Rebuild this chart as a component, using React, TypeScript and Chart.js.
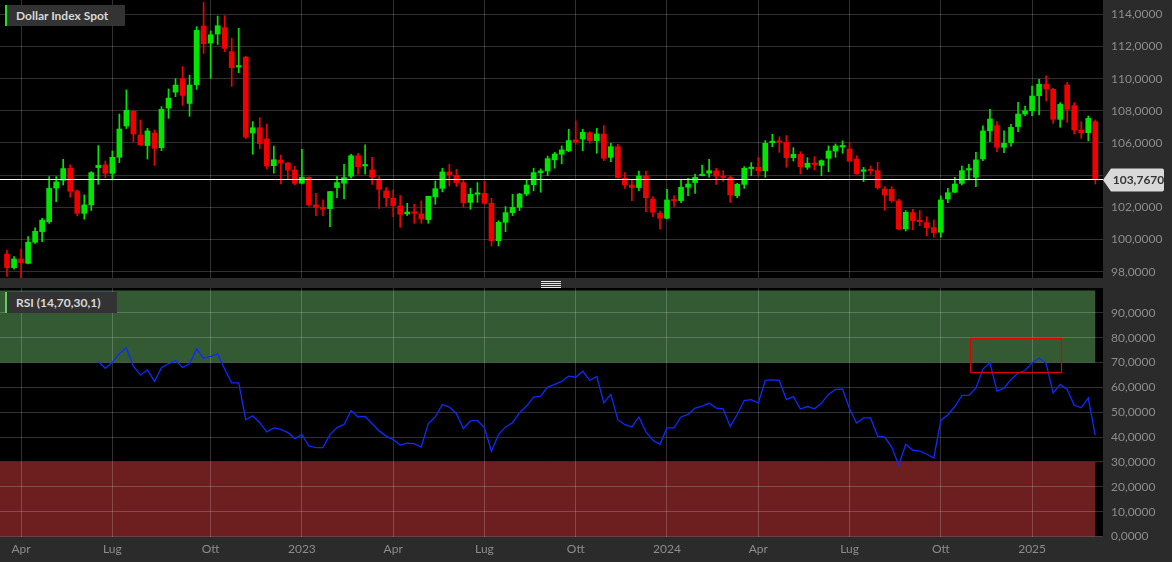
import React, { useEffect, useRef } from 'react';
import { Chart, registerables } from 'chart.js';

Chart.register(...registerables);

// Weekly OHLC, Dollar Index Spot (week ending 18 Mar 2022 .. 7 Mar 2025)
const opens = [
  99.10, 98.25, 98.79, 98.52, 99.83, 100.49, 101.11, 103.20, 103.68, 104.43,
  103.02, 101.63, 102.15, 104.47, 104.64, 104.11, 105.11, 107.06, 107.97, 106.50,
  105.84, 106.62, 105.71, 108.17, 109.16, 110.00, 108.46, 109.62, 113.27, 112.21,
  112.77, 113.17, 111.68, 110.72, 111.34, 106.62, 106.95, 106.25, 104.59, 104.94,
  104.75, 104.32, 103.50, 103.87, 102.15, 102.00, 101.92, 103.23, 103.50, 103.93,
  105.21, 104.57, 104.32, 103.74, 103.02, 102.56, 102.09, 101.59, 101.71, 101.59,
  101.24, 102.65, 103.18, 104.20, 103.99, 103.54, 102.31, 102.81, 102.87, 102.25,
  99.93, 101.07, 101.67, 102.00, 102.83, 103.41, 104.16, 104.26, 104.95, 105.30,
  105.52, 106.19, 106.25, 106.64, 106.15, 106.56, 105.11, 105.77, 103.81, 103.39,
  103.23, 103.95, 102.52, 101.63, 101.32, 102.46, 102.42, 103.25, 103.54, 103.97,
  104.12, 104.26, 103.91, 103.85, 102.73, 103.43, 104.41, 104.49, 104.28, 106.02,
  106.12, 106.04, 105.09, 105.30, 104.49, 104.74, 104.61, 105.05, 105.50, 105.75,
  105.63, 105.01, 104.24, 104.36, 104.28, 103.14, 103.12, 102.40, 100.66, 101.67,
  101.20, 101.05, 100.74, 100.45, 102.52, 102.94, 103.49, 104.32, 103.87, 105.01,
  106.75, 107.08, 105.73, 106.02, 107.02, 107.80, 108.01, 108.94, 109.65, 109.34,
  107.47, 109.61, 108.32, 106.81, 106.64, 107.33,
];
const highs = [
  99.35, 98.94, 99.40, 100.18, 100.72, 101.32, 103.91, 103.91, 104.99, 104.64,
  103.08, 102.77, 104.22, 105.84, 104.88, 105.50, 107.80, 109.30, 108.05, 107.43,
  106.91, 106.81, 108.26, 109.36, 110.00, 110.75, 110.22, 113.23, 114.74, 112.96,
  113.89, 113.91, 112.50, 113.13, 111.40, 107.33, 107.57, 107.18, 105.81, 105.25,
  104.80, 104.55, 105.61, 103.90, 102.87, 102.46, 103.00, 103.91, 104.68, 105.30,
  105.36, 105.88, 105.11, 103.91, 103.23, 103.08, 102.73, 102.25, 102.19, 102.40,
  102.69, 103.64, 104.43, 104.68, 104.36, 103.70, 103.18, 103.54, 103.60, 102.56,
  101.17, 102.05, 102.81, 102.87, 103.70, 104.43, 104.39, 105.19, 105.42, 105.82,
  106.85, 107.37, 106.85, 106.70, 106.91, 107.08, 105.98, 105.92, 104.16, 103.74,
  104.26, 104.26, 102.67, 101.77, 103.12, 102.73, 103.70, 103.81, 104.07, 104.63,
  104.99, 104.43, 104.28, 103.95, 103.50, 104.53, 104.78, 105.09, 106.15, 106.54,
  106.39, 106.46, 105.71, 105.46, 105.09, 105.15, 104.95, 105.82, 105.94, 106.13,
  106.04, 105.21, 104.49, 104.57, 104.80, 103.29, 103.29, 102.50, 101.80, 101.88,
  101.80, 101.42, 101.22, 102.71, 103.18, 103.87, 104.57, 104.68, 105.42, 107.06,
  108.09, 107.33, 106.75, 107.16, 108.53, 108.30, 109.54, 109.96, 110.17, 109.40,
  108.51, 109.77, 108.51, 107.33, 107.68, 107.43,
];
const lows = [
  97.70, 98.15, 97.63, 98.48, 99.76, 99.87, 101.00, 102.36, 103.39, 102.63,
  101.47, 101.26, 101.80, 103.43, 103.85, 103.70, 104.78, 106.90, 106.08, 105.84,
  105.00, 104.61, 105.52, 107.53, 108.88, 108.34, 107.66, 109.33, 111.57, 110.02,
  112.13, 111.68, 109.52, 110.37, 106.27, 105.30, 105.63, 104.38, 104.12, 103.45,
  103.76, 103.39, 103.45, 102.05, 101.49, 101.49, 100.80, 102.60, 102.52, 103.81,
  104.07, 104.07, 103.43, 101.94, 102.05, 101.42, 100.76, 101.49, 101.01, 101.01,
  101.01, 102.19, 102.96, 103.33, 103.29, 102.00, 101.88, 102.31, 102.19, 99.60,
  99.60, 100.49, 101.49, 101.80, 102.73, 103.02, 102.94, 103.97, 104.43, 104.70,
  105.46, 105.92, 105.52, 105.98, 105.36, 104.90, 104.84, 103.81, 103.18, 102.42,
  103.04, 101.73, 101.42, 100.64, 101.28, 102.05, 102.29, 102.73, 102.87, 103.95,
  103.87, 103.43, 103.60, 102.31, 102.60, 103.18, 103.97, 103.95, 103.87, 105.77,
  105.42, 104.49, 104.88, 104.07, 104.36, 104.32, 103.97, 104.22, 105.11, 105.36,
  104.80, 104.05, 103.60, 104.05, 103.12, 101.81, 102.31, 100.60, 100.53, 100.60,
  100.86, 100.24, 100.14, 100.14, 102.29, 102.91, 103.39, 103.70, 103.29, 104.90,
  106.08, 105.46, 105.40, 105.81, 106.71, 107.70, 107.70, 107.74, 108.61, 107.22,
  106.98, 107.29, 106.56, 106.29, 106.13, 103.45,
];
const closes = [
  98.25, 98.79, 98.56, 99.83, 100.51, 101.21, 103.18, 103.58, 104.41, 103.00,
  101.63, 102.15, 104.16, 104.61, 104.11, 105.11, 106.87, 108.03, 106.56, 105.88,
  106.75, 105.67, 108.09, 108.79, 109.60, 108.96, 109.60, 113.00, 112.17, 112.73,
  113.29, 111.88, 110.68, 110.81, 106.37, 106.95, 105.96, 104.57, 104.96, 104.75,
  104.32, 103.49, 103.87, 102.15, 102.00, 101.88, 102.98, 103.54, 103.85, 105.21,
  104.53, 104.63, 103.87, 103.12, 102.60, 102.11, 101.57, 101.71, 101.63, 101.28,
  102.69, 103.16, 104.20, 104.03, 103.54, 102.29, 102.81, 102.89, 102.25, 99.93,
  101.07, 101.67, 102.00, 102.83, 103.39, 104.16, 104.26, 105.03, 105.32, 105.57,
  106.15, 106.06, 106.66, 106.15, 106.56, 105.05, 105.77, 103.85, 103.39, 103.23,
  103.95, 102.60, 101.69, 101.32, 102.46, 102.40, 103.25, 103.45, 103.87, 104.05,
  104.28, 103.95, 103.85, 102.77, 103.43, 104.43, 104.47, 104.28, 105.98, 106.08,
  106.04, 105.09, 105.30, 104.53, 104.74, 104.66, 104.90, 105.50, 105.82, 105.84,
  104.88, 104.09, 104.32, 104.28, 103.22, 102.77, 102.42, 100.66, 101.69, 101.17,
  101.11, 100.74, 100.43, 102.46, 102.91, 103.45, 104.28, 104.41, 104.95, 106.75,
  107.49, 105.73, 105.98, 106.97, 107.80, 108.01, 108.92, 109.65, 109.36, 107.47,
  108.40, 108.09, 106.81, 106.64, 107.53, 103.767,
];

// RSI(14) values, first value at bar index rsiStart
const rsiStart = 13;
const rsiValues = [
  70.4, 67.7, 70.1, 73.7, 75.9, 68.5, 65.0, 67.0, 62.4, 67.9,
  69.5, 70.8, 68.0, 69.5, 75.5, 71.7, 72.5, 73.5, 67.4, 61.8,
  61.8, 47.0, 48.6, 45.8, 42.1, 43.7, 43.1, 41.8, 39.4, 41.0,
  36.4, 35.8, 35.8, 41.0, 43.8, 45.1, 50.7, 48.1, 48.3, 45.4,
  42.5, 40.4, 39.0, 36.8, 37.6, 37.4, 36.0, 45.4, 48.1, 53.1,
  52.1, 49.4, 43.4, 46.5, 46.7, 43.7, 34.3, 41.0, 44.1, 45.8,
  49.8, 52.5, 56.1, 56.5, 60.1, 61.2, 62.4, 64.5, 64.1, 66.5,
  62.8, 64.4, 53.8, 57.2, 47.0, 45.0, 44.1, 48.1, 42.1, 38.7,
  37.1, 43.7, 43.7, 48.1, 49.1, 51.7, 52.5, 53.7, 51.7, 51.4,
  44.3, 49.1, 54.7, 55.1, 53.7, 62.8, 63.0, 62.8, 55.1, 56.3,
  51.3, 52.3, 51.4, 53.7, 57.2, 59.2, 59.3, 51.4, 45.7, 47.7,
  47.7, 40.4, 40.0, 36.0, 28.7, 37.1, 34.7, 34.4, 33.1, 31.6,
  46.7, 49.0, 52.3, 56.8, 56.8, 59.8, 67.4, 69.9, 58.5, 59.7,
  63.2, 65.8, 66.8, 69.9, 71.7, 69.7, 57.7, 61.2, 59.2, 52.8,
  51.8, 55.8, 40.7,
];

const priceTicks = [98, 100, 102, 104, 106, 108, 110, 112, 114];
const rsiTicks = [0, 10, 20, 30, 40, 50, 60, 70, 80, 90];
const xTickIndex = [2, 15, 29, 42, 55, 68, 81, 94, 107, 120, 133, 146];
const xTickLabels = ['Apr', 'Lug', 'Ott', '2023', 'Apr', 'Lug', 'Ott', '2024', 'Apr', 'Lug', 'Ott', '2025'];
const lastPrice = 103.767;
const overbought = 70;
const oversold = 30;
const zoneTop = 99;
const highlightFrom = 137.1;
const highlightTo = 150.1;
const highlightLow = 66;
const highlightHigh = 80;

const UP = '#00e600';
const DOWN = '#f20000';
const GRID = 'rgba(255,255,255,0.19)';
const AXIS_BG = '#2b2b2b';
const LABEL = '#8c8c8c';
const FONT = 'Lato, "Open Sans", sans-serif';
const X_MIN = -1;
const X_MAX = 156.1;
const AXIS_W = 69;

const fmt = (v: number) => Number(v).toFixed(4).replace('.', ',');

const bgPlugin = {
  id: 'bgPlugin',
  beforeDraw(chart: any) {
    const { ctx, chartArea: a, width, height } = chart;
    ctx.save();
    ctx.fillStyle = AXIS_BG;
    ctx.fillRect(0, 0, width, height);
    ctx.fillStyle = '#000';
    ctx.fillRect(a.left, a.top, a.right - a.left, a.bottom - a.top);
    ctx.restore();
  },
};

const noPad = (s: any) => {
  s.paddingTop = 0;
  s.paddingBottom = 0;
  s.paddingLeft = 0;
  s.paddingRight = 0;
};

export default function App() {
  const topRef = useRef<HTMLCanvasElement>(null);
  const botRef = useRef<HTMLCanvasElement>(null);

  useEffect(() => {
    const idx = opens.map((_, i) => i);
    const colors = idx.map((i) => (closes[i] >= opens[i] ? UP : DOWN));
    const bodyData = idx.map((i) => ({ x: i, y: [opens[i], closes[i]] }));
    const wickData = idx.map((i) => ({ x: i, y: [lows[i], highs[i]] }));

    const xScaleBase = (showLabels: boolean, h: number) => ({
      type: 'linear' as const,
      min: X_MIN,
      max: X_MAX,
      offset: false,
      afterBuildTicks: (s: any) => {
        s.ticks = xTickIndex.map((v) => ({ value: v }));
      },
      afterFit: (s: any) => {
        s.height = h;
        noPad(s);
      },
      grid: { color: GRID, lineWidth: 1, drawTicks: false, offset: false },
      border: { display: false },
      ticks: {
        display: showLabels,
        autoSkip: false,
        maxRotation: 0,
        padding: 5,
        color: LABEL,
        font: { family: FONT, size: 12 },
        callback: (v: any) => {
          const k = xTickIndex.indexOf(Number(v));
          return k >= 0 ? xTickLabels[k] : '';
        },
      },
    });

    const yScaleBase = (min: number, max: number, ticks: number[]) => ({
      type: 'linear' as const,
      position: 'right' as const,
      min,
      max,
      afterBuildTicks: (s: any) => {
        s.ticks = ticks.map((v) => ({ value: v }));
      },
      afterFit: (s: any) => {
        s.width = AXIS_W;
        noPad(s);
      },
      grid: { color: GRID, lineWidth: 1, drawTicks: false },
      border: { display: false },
      ticks: {
        padding: 8,
        color: LABEL,
        font: { family: FONT, size: 12 },
        callback: (v: any) => fmt(Number(v)),
      },
    });

    const lastPricePlugin = {
      id: 'lastPrice',
      afterDatasetsDraw(chart: any) {
        const { ctx, chartArea: a } = chart;
        const y = Math.round(chart.scales.y.getPixelForValue(lastPrice)) + 0.5;
        ctx.save();
        ctx.strokeStyle = '#ffffff';
        ctx.lineWidth = 1;
        ctx.beginPath();
        ctx.moveTo(a.left, y);
        ctx.lineTo(a.right, y);
        ctx.stroke();
        ctx.restore();
      },
      afterDraw(chart: any) {
        const { ctx, chartArea: a } = chart;
        const cy = chart.scales.y.getPixelForValue(lastPrice) + 1;
        const tip = a.right;
        const x0 = a.right + 8;
        const x1 = a.right + 61;
        const h = 23;
        ctx.save();
        ctx.fillStyle = '#d9d9d9';
        ctx.beginPath();
        ctx.moveTo(tip, cy);
        ctx.lineTo(x0, cy - h / 2);
        ctx.lineTo(x1 - 2, cy - h / 2);
        ctx.quadraticCurveTo(x1, cy - h / 2, x1, cy - h / 2 + 2);
        ctx.lineTo(x1, cy + h / 2 - 2);
        ctx.quadraticCurveTo(x1, cy + h / 2, x1 - 2, cy + h / 2);
        ctx.lineTo(x0, cy + h / 2);
        ctx.closePath();
        ctx.fill();
        ctx.fillStyle = '#333333';
        ctx.font = 'bold 12px ' + FONT;
        ctx.textAlign = 'center';
        ctx.textBaseline = 'middle';
        ctx.fillText(fmt(lastPrice), (x0 + x1) / 2 + 1, cy + 0.5);
        ctx.restore();
      },
    };

    const top = new Chart(topRef.current as HTMLCanvasElement, {
      type: 'bar',
      data: {
        datasets: [
          {
            data: bodyData as any,
            backgroundColor: colors,
            barThickness: 5,
            minBarLength: 1.5,
            grouped: false,
            borderWidth: 0,
          } as any,
          {
            data: wickData as any,
            backgroundColor: colors,
            barThickness: 1,
            grouped: false,
            borderWidth: 0,
          } as any,
        ],
      },
      options: {
        animation: false,
        responsive: false,
        devicePixelRatio: 1,
        layout: { padding: 0 },
        plugins: { legend: { display: false }, tooltip: { enabled: false } },
        scales: {
          x: xScaleBase(false, 0) as any,
          y: yScaleBase(97.608, 114.889, priceTicks) as any,
        },
      },
      plugins: [bgPlugin, lastPricePlugin],
    });

    const zonesPlugin = {
      id: 'zones',
      beforeDraw(chart: any) {
        const { ctx, chartArea: a } = chart;
        const xs = chart.scales.x;
        const ys = chart.scales.y;
        const xEnd = xs.getPixelForValue(opens.length - 1);
        ctx.save();
        ctx.fillStyle = '#345a34';
        const g0 = ys.getPixelForValue(zoneTop);
        const g1 = ys.getPixelForValue(overbought);
        ctx.fillRect(a.left, g0, xEnd - a.left, g1 - g0);
        ctx.fillStyle = '#6d1f20';
        const r0 = ys.getPixelForValue(oversold);
        const r1 = ys.getPixelForValue(0);
        ctx.fillRect(a.left, r0, xEnd - a.left, r1 - r0);
        ctx.restore();
      },
      afterDatasetsDraw(chart: any) {
        const { ctx } = chart;
        const xs = chart.scales.x;
        const ys = chart.scales.y;
        const x0 = Math.round(xs.getPixelForValue(highlightFrom)) + 0.5;
        const x1 = Math.round(xs.getPixelForValue(highlightTo)) + 0.5;
        const y0 = Math.round(ys.getPixelForValue(highlightHigh)) + 0.5;
        const y1 = Math.round(ys.getPixelForValue(highlightLow)) + 0.5;
        ctx.save();
        ctx.strokeStyle = '#e00000';
        ctx.lineWidth = 1.2;
        ctx.strokeRect(x0, y0, x1 - x0, y1 - y0);
        ctx.restore();
      },
    };

    const bot = new Chart(botRef.current as HTMLCanvasElement, {
      type: 'line',
      data: {
        datasets: [
          {
            data: rsiValues.map((v, k) => ({ x: rsiStart + k, y: v })),
            borderColor: '#0a2cff',
            borderWidth: 1.3,
            pointRadius: 0,
            tension: 0,
            fill: false,
          },
        ],
      },
      options: {
        animation: false,
        responsive: false,
        devicePixelRatio: 1,
        layout: { padding: 0 },
        plugins: { legend: { display: false }, tooltip: { enabled: false } },
        scales: {
          x: xScaleBase(true, 25.5) as any,
          y: yScaleBase(0, 100, rsiTicks) as any,
        },
      },
      plugins: [bgPlugin, zonesPlugin],
    });

    return () => {
      top.destroy();
      bot.destroy();
    };
  }, []);

  const boxStyle = (top: number, width: number, bar: string): React.CSSProperties => ({
    position: 'absolute',
    left: 5,
    top,
    width,
    height: 21,
    boxSizing: 'border-box',
    background: '#333333',
    borderLeft: '2px solid ' + bar,
    color: '#d8d8d8',
    font: 'bold 12px ' + FONT,
    lineHeight: '21px',
    paddingLeft: 9,
    whiteSpace: 'nowrap',
  });

  return (
    <div
      style={{
        position: 'fixed',
        left: 0,
        top: 0,
        width: 1172,
        height: 562,
        background: AXIS_BG,
        overflow: 'hidden',
      }}
    >
      <canvas ref={topRef} width={1172} height={278} style={{ position: 'absolute', left: 0, top: 0, display: 'block' }} />
      <div style={{ position: 'absolute', left: 0, top: 278, width: 1172, height: 10, background: AXIS_BG }}>
        {[3, 5, 7, 9].map((y) => (
          <div key={y} style={{ position: 'absolute', left: 541, top: y, width: 20, height: 1, background: '#e6e6e6' }} />
        ))}
      </div>
      <canvas ref={botRef} width={1172} height={274} style={{ position: 'absolute', left: 0, top: 288, display: 'block' }} />
      <div style={boxStyle(5, 120, '#22dd22')}>Dollar Index Spot</div>
      <div style={boxStyle(292, 112, '#66cc66')}>RSI (14,70,30,1)</div>
    </div>
  );
}
